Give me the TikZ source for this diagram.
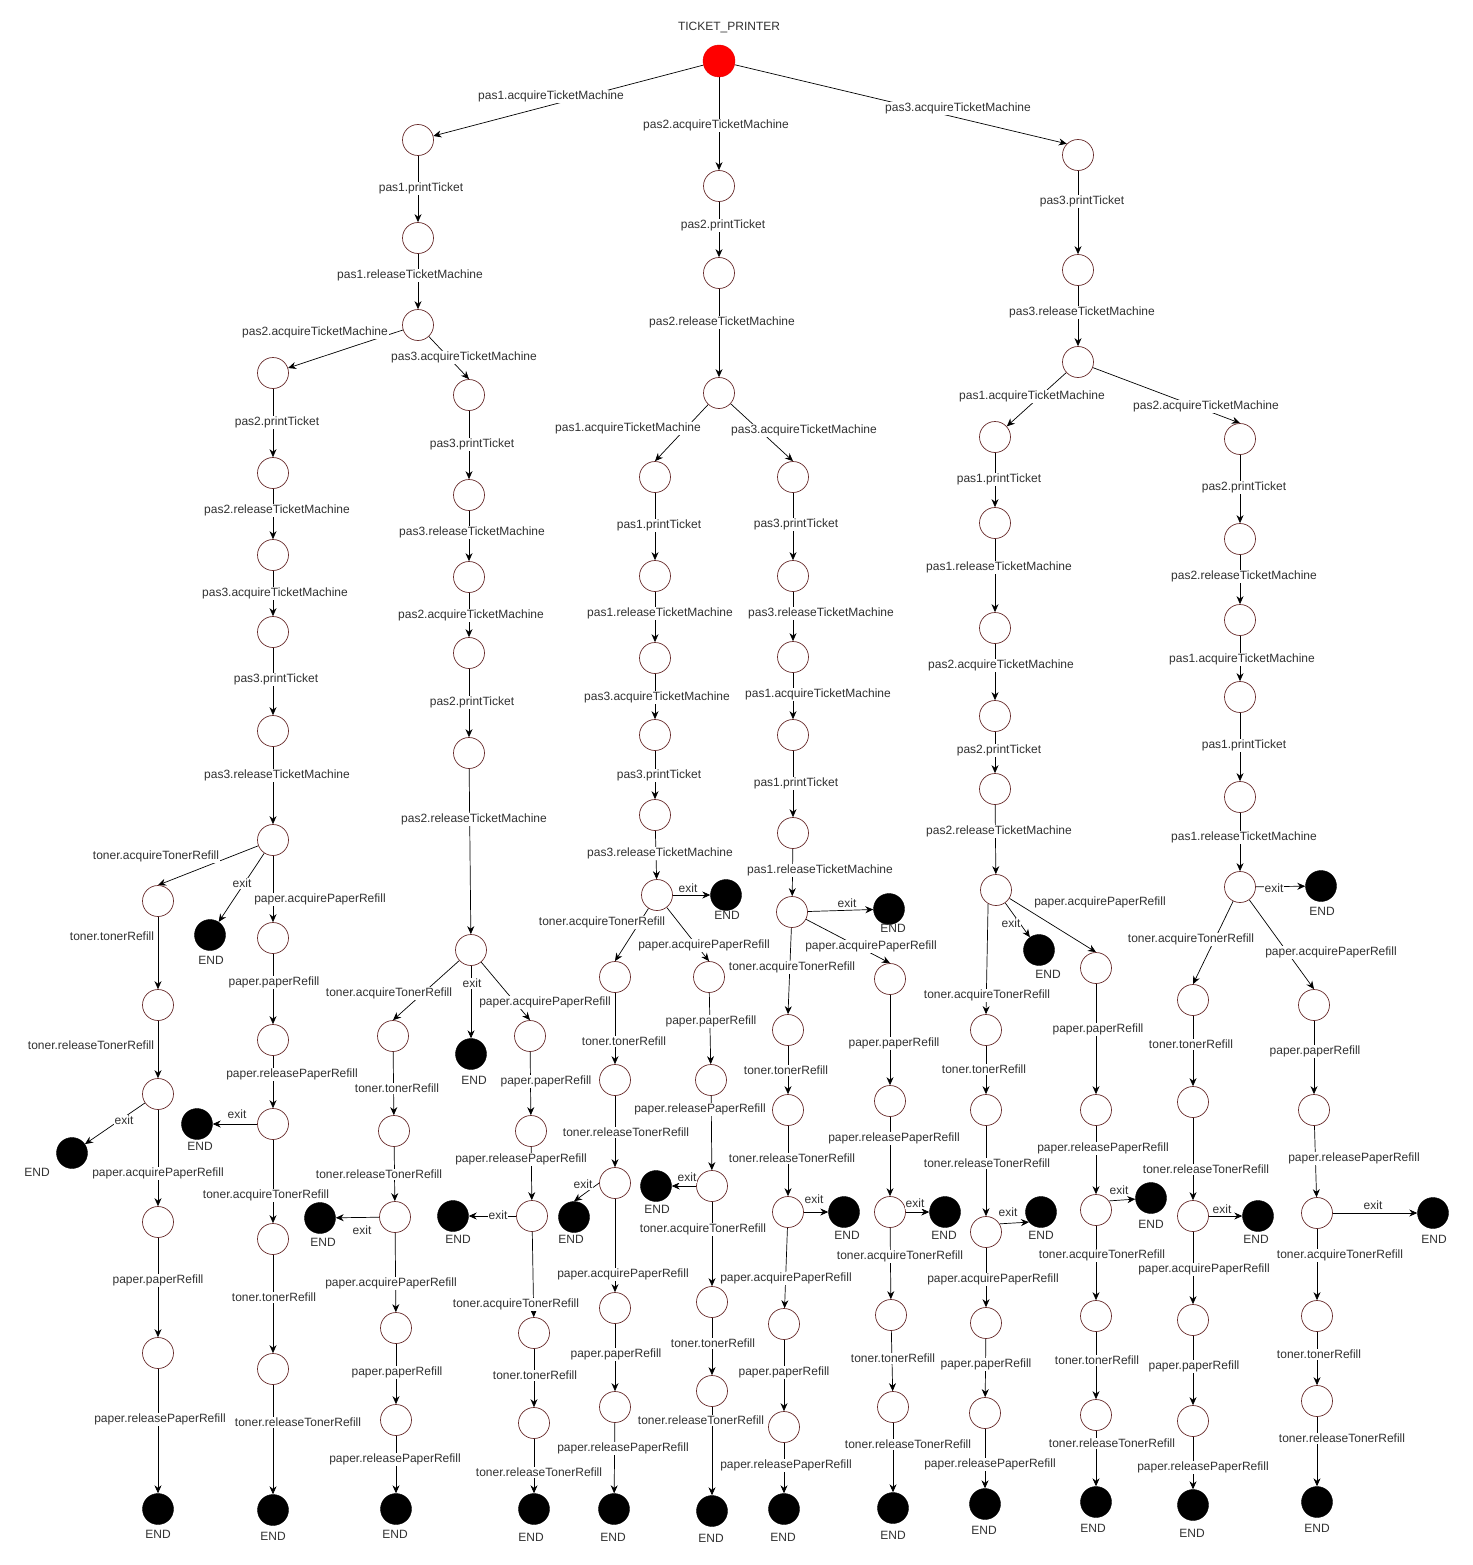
\documentclass[tikz,border=0pt]{standalone}
\usepackage{fontspec}
\setmainfont{Liberation Sans}
\usetikzlibrary{arrows.meta}
\definecolor{stc}{RGB}{105,45,45}
\definecolor{txt}{RGB}{50,50,50}
\pgfdeclarelayer{bg}
\pgfsetlayers{bg,main}
\tikzset{
  stt/.style={circle, draw=stc, fill=white, line width=0.7pt, minimum size=31pt, inner sep=0pt},
  endc/.style={circle, fill=black, draw=black, minimum size=31pt, inner sep=0pt},
  rootc/.style={circle, fill=red, draw=red!90!black, minimum size=32pt, inner sep=0pt},
  endt/.style={font=\fontsize{12}{14}\selectfont, text=txt, inner sep=0pt},
  lbl/.style={font=\fontsize{12}{14}\selectfont, text=txt, fill=white, inner sep=1pt, yshift=-1.5pt},
  edg/.style={draw=black, line width=0.7pt, -{Stealth[length=8pt,width=7pt]}}
}
\newcommand\mkst[3]{\node[stt] (#1) at (#2,#3) {};}
\newcommand\mkend[5]{\node[endc] (#1) at (#2,#3) {};\node[endt] (#1t) at (#4,#5) {END};}
\newcommand\mkedge[6]{\begin{pgfonlayer}{bg}\draw[edg] (#2) -- (#3);\end{pgfonlayer}\node[lbl] (#1) at (#4,#5) {#6};}
\begin{document}
\begin{tikzpicture}[x=1pt,y=-1pt]
\begin{pgfonlayer}{bg}
\fill[white] (0,0) rectangle (1472,1565);
\end{pgfonlayer}
\useasboundingbox (0,0) rectangle (1472,1565);
% root
\node[rootc] (R) at (719,61) {};
\node[endt] (title) at (729,28) {TICKET\_PRINTER};
% states
\mkst{A1}{418}{140}\mkst{A2}{418}{238}\mkst{A3}{418}{325}
\mkst{B1}{273}{373}\mkst{B2}{273}{473}\mkst{B3}{273}{555}\mkst{B4}{273}{632}\mkst{B5}{273}{731}\mkst{B6}{273}{840}
\mkst{Bt1}{158}{901}\mkst{Bt2}{158}{1005}\mkst{Bt3}{158}{1094}\mkst{Bt4}{158}{1222}\mkst{Bt5}{158}{1353}
\mkst{Bp1}{273}{938}\mkst{Bp2}{273}{1040}\mkst{Bp3}{273}{1124}\mkst{Bp4}{273}{1239}\mkst{Bp5}{273}{1369}
\mkst{C1}{469}{395}\mkst{C2}{469}{495}\mkst{C3}{469}{577}\mkst{C4}{469}{653}\mkst{C5}{469}{753}\mkst{C6}{471}{950}
\mkst{Ct1}{393}{1036}\mkst{Ct2}{394}{1131}\mkst{Ct3}{395}{1217}\mkst{Ct4}{396}{1328}\mkst{Ct5}{396}{1420}
\mkst{Cp1}{530}{1036}\mkst{Cp2}{531}{1131}\mkst{Cp3}{532}{1216}\mkst{Cp4}{534}{1333}\mkst{Cp5}{534}{1423}
\mkst{D1}{719}{186}\mkst{D2}{719}{273}\mkst{D3}{719}{393}
\mkst{E1}{655}{477}\mkst{E2}{655}{576}\mkst{E3}{655}{658}\mkst{E4}{655}{735}\mkst{E5}{655}{815}\mkst{E6}{657}{895}
\mkst{Et1}{615}{977}\mkst{Et2}{615}{1080}\mkst{Et3}{615}{1183}\mkst{Et4}{615}{1308}\mkst{Et5}{615}{1407}
\mkst{Ep1}{709}{977}\mkst{Ep2}{711}{1080}\mkst{Ep3}{712}{1186}\mkst{Ep4}{712}{1302}\mkst{Ep5}{712}{1391}
\mkst{F1}{793}{477}\mkst{F2}{793}{576}\mkst{F3}{793}{657}\mkst{F4}{793}{735}\mkst{F5}{793}{833}\mkst{F6}{792}{912}
\mkst{Ft1}{788}{1030}\mkst{Ft2}{788}{1110}\mkst{Ft3}{788}{1212}\mkst{Ft4}{784}{1324}\mkst{Ft5}{784}{1427}
\mkst{Fp1}{890}{979}\mkst{Fp2}{890}{1101}\mkst{Fp3}{890}{1212}\mkst{Fp4}{891}{1315}\mkst{Fp5}{893}{1407}
\mkst{G1}{1078}{155}\mkst{G2}{1078}{270}\mkst{G3}{1078}{362}
\mkst{H1}{995}{437}\mkst{H2}{995}{523}\mkst{H3}{995}{628}\mkst{H4}{995}{716}\mkst{H5}{995}{789}\mkst{H6}{996}{890}
\mkst{Ht1}{986}{1030}\mkst{Ht2}{986}{1110}\mkst{Ht3}{986}{1232}\mkst{Ht4}{986}{1323}\mkst{Ht5}{985}{1413}
\mkst{Hp1}{1096}{968}\mkst{Hp2}{1096}{1110}\mkst{Hp3}{1096}{1210}\mkst{Hp4}{1096}{1316}\mkst{Hp5}{1096}{1415}
\mkst{I1}{1240}{439}\mkst{I2}{1240}{539}\mkst{I3}{1240}{620}\mkst{I4}{1240}{697}\mkst{I5}{1240}{797}\mkst{I6}{1240}{887}
\mkst{It1}{1193}{1000}\mkst{It2}{1193}{1102}\mkst{It3}{1193}{1216}\mkst{It4}{1193}{1320}\mkst{It5}{1193}{1421}
\mkst{Ip1}{1314}{1005}\mkst{Ip2}{1314}{1110}\mkst{Ip3}{1317}{1213}\mkst{Ip4}{1317}{1316}\mkst{Ip5}{1317}{1401}
% end states
\mkend{B6x}{210}{935}{211}{960}
\mkend{Bt3x}{72}{1153}{37}{1172}
\mkend{Bt6}{158}{1509}{158}{1534}
\mkend{Bp3x}{197}{1124}{200}{1146}
\mkend{Bp6}{273}{1510}{273}{1536}
\mkend{C6x}{471}{1054}{474}{1080}
\mkend{Ct3x}{320}{1218}{323}{1242}
\mkend{Ct6}{396}{1509}{395}{1534}
\mkend{Cp3x}{453}{1216}{458}{1239}
\mkend{Cp6}{534}{1509}{531}{1537}
\mkend{E6x}{726}{895}{727}{915}
\mkend{Et3x}{574}{1217}{571}{1239}
\mkend{Et6}{614}{1509}{613}{1537}
\mkend{Ep3x}{656}{1186}{657}{1209}
\mkend{Ep6}{712}{1511}{711}{1538}
\mkend{F6x}{889}{909}{893}{928}
\mkend{Ft3x}{844}{1212}{847}{1235}
\mkend{Ft6}{784}{1509}{783}{1537}
\mkend{Fp3x}{945}{1212}{944}{1235}
\mkend{Fp6}{893}{1508}{893}{1535}
\mkend{H6x}{1039}{950}{1048}{974}
\mkend{Ht3x}{1041}{1212}{1041}{1235}
\mkend{Ht6}{985}{1504}{984}{1530}
\mkend{Hp3x}{1151}{1198}{1151}{1224}
\mkend{Hp6}{1096}{1502}{1093}{1528}
\mkend{I6x}{1321}{886}{1322}{911}
\mkend{It3x}{1258}{1216}{1256}{1239}
\mkend{It6}{1193}{1505}{1192}{1533}
\mkend{Ip3x}{1433}{1213}{1434}{1239}
\mkend{Ip6}{1317}{1502}{1317}{1528}
% edges: branch A
\mkedge{lRA1}{R}{A1}{551}{95}{pas1.acquireTicketMachine}
\mkedge{lA1A2}{A1}{A2}{421}{187}{pas1.printTicket}
\mkedge{lA2A3}{A2}{A3}{410}{274}{pas1.releaseTicketMachine}
\mkedge{lA3B1}{A3}{B1}{315}{331}{pas2.acquireTicketMachine}
\mkedge{lA3C1}{A3}{C1.north}{464}{356}{pas3.acquireTicketMachine}
% B
\mkedge{lB1B2}{B1}{B2}{277}{421}{pas2.printTicket}
\mkedge{lB2B3}{B2}{B3}{277}{509}{pas2.releaseTicketMachine}
\mkedge{lB3B4}{B3}{B4}{275}{592}{pas3.acquireTicketMachine}
\mkedge{lB4B5}{B4}{B5}{276}{678}{pas3.printTicket}
\mkedge{lB5B6}{B5}{B6}{277}{774}{pas3.releaseTicketMachine}
\mkedge{lB6Bt1}{B6}{Bt1.north}{156}{855}{toner.acquireTonerRefill}
\mkedge{lB6x}{B6}{B6x}{242}{882}{exit}
\mkedge{lB6Bp1}{B6}{Bp1}{320}{898}{paper.acquirePaperRefill}
\mkedge{lBt1Bt2}{Bt1}{Bt2}{112}{935}{toner.tonerRefill}
\mkedge{lBt2Bt3}{Bt2}{Bt3}{91}{1044}{toner.releaseTonerRefill}
\mkedge{lBt3x}{Bt3}{Bt3x}{124}{1119}{exit}
\mkedge{lBt3Bt4}{Bt3}{Bt4}{158}{1172}{paper.acquirePaperRefill}
\mkedge{lBt4Bt5}{Bt4}{Bt5}{158}{1279}{paper.paperRefill}
\mkedge{lBt5Bt6}{Bt5}{Bt6}{160}{1418}{paper.releasePaperRefill}
\mkedge{lBp1Bp2}{Bp1}{Bp2}{274}{981}{paper.paperRefill}
\mkedge{lBp2Bp3}{Bp2}{Bp3}{292}{1073}{paper.releasePaperRefill}
\mkedge{lBp3x}{Bp3}{Bp3x}{237}{1113}{exit}
\mkedge{lBp3Bp4}{Bp3}{Bp4}{266}{1194}{toner.acquireTonerRefill}
\mkedge{lBp4Bp5}{Bp4}{Bp5}{274}{1296}{toner.tonerRefill}
\mkedge{lBp5Bp6}{Bp5}{Bp6}{298}{1421}{toner.releaseTonerRefill}
% C
\mkedge{lC1C2}{C1}{C2}{472}{443}{pas3.printTicket}
\mkedge{lC2C3}{C2}{C3}{472}{531}{pas3.releaseTicketMachine}
\mkedge{lC3C4}{C3}{C4}{471}{614}{pas2.acquireTicketMachine}
\mkedge{lC4C5}{C4}{C5}{472}{701}{pas2.printTicket}
\mkedge{lC5C6}{C5}{C6}{474}{818}{pas2.releaseTicketMachine}
\mkedge{lC6Ct1}{C6}{Ct1.north}{389}{992}{toner.acquireTonerRefill}
\mkedge{lC6x}{C6}{C6x}{472}{982}{exit}
\mkedge{lC6Cp1}{C6}{Cp1.north}{545}{1001}{paper.acquirePaperRefill}
\mkedge{lCt1Ct2}{Ct1}{Ct2}{397}{1087}{toner.tonerRefill}
\mkedge{lCt2Ct3}{Ct2}{Ct3}{379}{1173}{toner.releaseTonerRefill}
\mkedge{lCt3x}{Ct3}{Ct3x}{362}{1229}{exit}
\mkedge{lCt3Ct4}{Ct3}{Ct4}{391}{1282}{paper.acquirePaperRefill}
\mkedge{lCt4Ct5}{Ct4}{Ct5}{397}{1371}{paper.paperRefill}
\mkedge{lCt5Ct6}{Ct5}{Ct6}{395}{1458}{paper.releasePaperRefill}
\mkedge{lCp1Cp2}{Cp1}{Cp2}{546}{1080}{paper.paperRefill}
\mkedge{lCp2Cp3}{Cp2}{Cp3}{521}{1158}{paper.releasePaperRefill}
\mkedge{lCp3x}{Cp3}{Cp3x}{498}{1214}{exit}
\mkedge{lCp3Cp4}{Cp3}{Cp4}{516}{1303}{toner.acquireTonerRefill}
\mkedge{lCp4Cp5}{Cp4}{Cp5}{535}{1374}{toner.tonerRefill}
\mkedge{lCp5Cp6}{Cp5}{Cp6}{539}{1471}{toner.releaseTonerRefill}
% D
\mkedge{lRD1}{R}{D1}{716}{124}{pas2.acquireTicketMachine}
\mkedge{lD1D2}{D1}{D2}{723}{224}{pas2.printTicket}
\mkedge{lD2D3}{D2}{D3}{722}{321}{pas2.releaseTicketMachine}
\mkedge{lD3E1}{D3}{E1.north}{628}{427}{pas1.acquireTicketMachine}
\mkedge{lD3F1}{D3}{F1.north}{804}{429}{pas3.acquireTicketMachine}
% E
\mkedge{lE1E2}{E1}{E2}{659}{524}{pas1.printTicket}
\mkedge{lE2E3}{E2}{E3}{660}{612}{pas1.releaseTicketMachine}
\mkedge{lE3E4}{E3}{E4}{657}{696}{pas3.acquireTicketMachine}
\mkedge{lE4E5}{E4}{E5}{659}{774}{pas3.printTicket}
\mkedge{lE5E6}{E5}{E6}{660}{852}{pas3.releaseTicketMachine}
\mkedge{lE6x}{E6}{E6x}{688}{887}{exit}
\mkedge{lE6Et1}{E6}{Et1.north}{602}{921}{toner.acquireTonerRefill}
\mkedge{lE6Ep1}{E6}{Ep1.north}{704}{944}{paper.acquirePaperRefill}
\mkedge{lEt1Et2}{Et1}{Et2}{624}{1040}{toner.tonerRefill}
\mkedge{lEt2Et3}{Et2}{Et3}{626}{1131}{toner.releaseTonerRefill}
\mkedge{lEt3x}{Et3.west}{Et3x.north}{583}{1183}{exit}
\mkedge{lEt3Et4}{Et3}{Et4}{623}{1273}{paper.acquirePaperRefill}
\mkedge{lEt4Et5}{Et4}{Et5}{616}{1353}{paper.paperRefill}
\mkedge{lEt5Et6}{Et5}{Et6}{623}{1447}{paper.releasePaperRefill}
\mkedge{lEp1Ep2}{Ep1}{Ep2}{711}{1020}{paper.paperRefill}
\mkedge{lEp2Ep3}{Ep2}{Ep3}{700}{1108}{paper.releasePaperRefill}
\mkedge{lEp3x}{Ep3}{Ep3x}{687}{1176}{exit}
\mkedge{lEp3Ep4}{Ep3}{Ep4}{703}{1228}{toner.acquireTonerRefill}
\mkedge{lEp4Ep5}{Ep4}{Ep5}{713}{1342}{toner.tonerRefill}
\mkedge{lEp5Ep6}{Ep5}{Ep6}{701}{1419}{toner.releaseTonerRefill}
% F
\mkedge{lF1F2}{F1}{F2}{796}{523}{pas3.printTicket}
\mkedge{lF2F3}{F2}{F3}{821}{612}{pas3.releaseTicketMachine}
\mkedge{lF3F4}{F3}{F4}{818}{693}{pas1.acquireTicketMachine}
\mkedge{lF4F5}{F4}{F5}{796}{782}{pas1.printTicket}
\mkedge{lF5F6}{F5}{F6}{820}{869}{pas1.releaseTicketMachine}
\mkedge{lF6x}{F6}{F6x}{847}{902}{exit}
\mkedge{lF6Ft1}{F6}{Ft1.north}{792}{966}{toner.acquireTonerRefill}
\mkedge{lF6Fp1}{F6}{Fp1.north}{871}{945}{paper.acquirePaperRefill}
\mkedge{lFt1Ft2}{Ft1}{Ft2}{786}{1069}{toner.tonerRefill}
\mkedge{lFt2Ft3}{Ft2}{Ft3}{792}{1157}{toner.releaseTonerRefill}
\mkedge{lFt3x}{Ft3}{Ft3x}{814}{1198}{exit}
\mkedge{lFt3Ft4}{Ft3}{Ft4}{786}{1277}{paper.acquirePaperRefill}
\mkedge{lFt4Ft5}{Ft4}{Ft5}{784}{1371}{paper.paperRefill}
\mkedge{lFt5Ft6}{Ft5}{Ft6}{786}{1464}{paper.releasePaperRefill}
\mkedge{lFp1Fp2}{Fp1}{Fp2}{894}{1042}{paper.paperRefill}
\mkedge{lFp2Fp3}{Fp2}{Fp3}{894}{1137}{paper.releasePaperRefill}
\mkedge{lFp3x}{Fp3}{Fp3x}{915}{1202}{exit}
\mkedge{lFp3Fp4}{Fp3}{Fp4}{900}{1255}{toner.acquireTonerRefill}
\mkedge{lFp4Fp5}{Fp4}{Fp5}{893}{1357}{toner.tonerRefill}
\mkedge{lFp5Fp6}{Fp5}{Fp6}{908}{1443}{toner.releaseTonerRefill}
% G
\mkedge{lRG1}{R}{G1.north west}{958}{107}{pas3.acquireTicketMachine}
\mkedge{lG1G2}{G1}{G2}{1082}{200}{pas3.printTicket}
\mkedge{lG2G3}{G2}{G3}{1082}{311}{pas3.releaseTicketMachine}
\mkedge{lG3H1}{G3}{H1}{1032}{395}{pas1.acquireTicketMachine}
\mkedge{lG3I1}{G3}{I1.north}{1206}{405}{pas2.acquireTicketMachine}
% H
\mkedge{lH1H2}{H1}{H2}{999}{478}{pas1.printTicket}
\mkedge{lH2H3}{H2}{H3}{999}{566}{pas1.releaseTicketMachine}
\mkedge{lH3H4}{H3}{H4}{1001}{664}{pas2.acquireTicketMachine}
\mkedge{lH4H5}{H4}{H5}{999}{749}{pas2.printTicket}
\mkedge{lH5H6}{H5}{H6}{999}{830}{pas2.releaseTicketMachine}
\mkedge{lH6x}{H6}{H6x}{1011}{922}{exit}
\mkedge{lH6Ht1}{H6.-120}{Ht1.north}{987}{994}{toner.acquireTonerRefill}
\mkedge{lH6Hp1}{H6}{Hp1.north}{1100}{901}{paper.acquirePaperRefill}
\mkedge{lHt1Ht2}{Ht1}{Ht2}{984}{1068}{toner.tonerRefill}
\mkedge{lHt2Ht3}{Ht2}{Ht3}{987}{1162}{toner.releaseTonerRefill}
\mkedge{lHt3x}{Ht3.31}{Ht3x.-140}{1008}{1211}{exit}
\mkedge{lHt3Ht4}{Ht3}{Ht4}{993}{1278}{paper.acquirePaperRefill}
\mkedge{lHt4Ht5}{Ht4}{Ht5}{986}{1363}{paper.paperRefill}
\mkedge{lHt5Ht6}{Ht5}{Ht6}{990}{1463}{paper.releasePaperRefill}
\mkedge{lHp1Hp2}{Hp1}{Hp2}{1098}{1028}{paper.paperRefill}
\mkedge{lHp2Hp3}{Hp2}{Hp3}{1103}{1147}{paper.releasePaperRefill}
\mkedge{lHp3x}{Hp3.35}{Hp3x}{1119}{1189}{exit}
\mkedge{lHp3Hp4}{Hp3}{Hp4}{1102}{1254}{toner.acquireTonerRefill}
\mkedge{lHp4Hp5}{Hp4}{Hp5}{1097}{1359}{toner.tonerRefill}
\mkedge{lHp5Hp6}{Hp5}{Hp6}{1112}{1442}{toner.releaseTonerRefill}
% I
\mkedge{lI1I2}{I1}{I2}{1244}{486}{pas2.printTicket}
\mkedge{lI2I3}{I2}{I3}{1244}{575}{pas2.releaseTicketMachine}
\mkedge{lI3I4}{I3}{I4}{1242}{658}{pas1.acquireTicketMachine}
\mkedge{lI4I5}{I4}{I5}{1244}{744}{pas1.printTicket}
\mkedge{lI5I6}{I5}{I6}{1244}{836}{pas1.releaseTicketMachine}
\mkedge{lI6x}{I6}{I6x}{1274}{887}{exit}
\mkedge{lI6It1}{I6}{It1.north}{1191}{938}{toner.acquireTonerRefill}
\mkedge{lI6Ip1}{I6}{Ip1.north}{1331}{951}{paper.acquirePaperRefill}
\mkedge{lIt1It2}{It1}{It2}{1191}{1043}{toner.tonerRefill}
\mkedge{lIt2It3}{It2}{It3}{1206}{1168}{toner.releaseTonerRefill}
\mkedge{lIt3x}{It3}{It3x}{1222}{1208}{exit}
\mkedge{lIt3It4}{It3}{It4}{1204}{1268}{paper.acquirePaperRefill}
\mkedge{lIt4It5}{It4}{It5}{1194}{1365}{paper.paperRefill}
\mkedge{lIt5It6}{It5}{It6}{1203}{1466}{paper.releasePaperRefill}
\mkedge{lIp1Ip2}{Ip1}{Ip2}{1315}{1050}{paper.paperRefill}
\mkedge{lIp2Ip3}{Ip2}{Ip3}{1354}{1157}{paper.releasePaperRefill}
\mkedge{lIp3x}{Ip3}{Ip3x}{1373}{1204}{exit}
\mkedge{lIp3Ip4}{Ip3}{Ip4}{1340}{1254}{toner.acquireTonerRefill}
\mkedge{lIp4Ip5}{Ip4}{Ip5}{1319}{1353}{toner.tonerRefill}
\mkedge{lIp5Ip6}{Ip5}{Ip6}{1342}{1437}{toner.releaseTonerRefill}
\end{tikzpicture}
\end{document}
